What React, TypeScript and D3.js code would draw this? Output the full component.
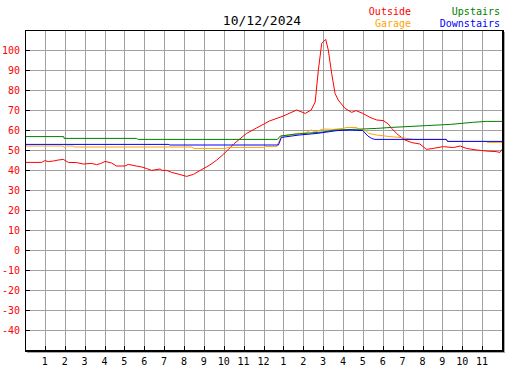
import * as d3 from "d3";

const W = 527;
const H = 370;
const LEFT = 25;
const RIGHT = 502;
const TOP = 30;
const BOTTOM = 350;

const TITLE = "10/12/2024";
const hourLabels = ["1", "2", "3", "4", "5", "6", "7", "8", "9", "10", "11", "12", "1", "2", "3", "4", "5", "6", "7", "8", "9", "10", "11"];
const tempTicks = [-40, -30, -20, -10, 0, 10, 20, 30, 40, 50, 60, 70, 80, 90, 100];

// [hour of day, temperature]
const outside: [number, number][] = [
  [0, 43.8], [0.84, 43.8], [1.0, 44.7], [1.17, 44.2], [1.43, 44.5], [1.68, 45], [1.93, 45.3],
  [2.18, 43.8], [2.6, 43.7], [2.93, 43], [3.35, 43.3], [3.6, 42.7], [3.8, 43.2], [4.03, 44.3],
  [4.36, 43.5], [4.6, 42], [5.03, 42], [5.2, 42.8], [5.6, 42], [5.87, 41.5], [6.1, 40.8],
  [6.37, 39.8], [6.8, 40.5], [6.9, 39.8], [7.13, 39.8], [7.38, 38.8], [7.7, 38], [8.13, 36.8],
  [8.47, 37.8], [8.8, 39.7], [9.3, 42.5], [9.65, 45], [10.0, 48], [10.5, 53], [11.15, 58.3],
  [11.65, 61], [12.3, 64.5], [13.0, 67], [13.67, 70], [14.1, 68.3], [14.4, 70], [14.6, 74],
  [14.76, 90], [14.93, 103.3], [15.13, 105.3], [15.26, 100], [15.43, 88.3], [15.6, 78.3],
  [15.76, 75], [16.1, 70.8], [16.44, 68.8], [16.65, 69.7], [17.0, 68.3], [17.36, 66.3],
  [17.7, 65], [18.03, 64.7], [18.28, 63], [18.45, 60.8], [18.78, 57.5], [19.12, 55],
  [19.46, 53.7], [19.87, 53], [20.2, 50.3], [20.54, 50.8], [21.05, 51.7], [21.55, 51.2],
  [21.9, 52], [22.2, 50.8], [22.73, 50], [23.2, 49.5], [23.7, 49.2], [23.9, 48.8], [24, 50.3],
];

const garage: [number, number][] = [
  [0, 52], [1.9, 52], [2.0, 51.3], [2.1, 52], [2.4, 52], [2.5, 51.5], [8.4, 51.5], [8.5, 50.8],
  [10.1, 50.8], [10.2, 51.3], [12.0, 51.3], [12.1, 51.7], [12.66, 51.7], [12.9, 57],
  [13.3, 57.5], [13.7, 58.3], [14.1, 58.5], [14.4, 60], [14.6, 59], [15.0, 60.5], [15.5, 60.3],
  [16.0, 60.8], [16.2, 61.3], [16.7, 61.2], [16.8, 60.3], [17.1, 60], [17.3, 58.3],
  [17.7, 57.5], [18.36, 56.7], [18.95, 56.2], [19.54, 55.3], [21.2, 55.3], [21.3, 54.3],
  [23.2, 54.3], [23.25, 53.8], [24, 53.8],
];

const upstairs: [number, number][] = [
  [0, 56.7], [1.95, 56.7], [1.97, 55.8], [5.6, 55.8], [5.7, 55.3], [12.7, 55.3], [12.85, 57],
  [13.5, 57.8], [14.3, 58.5], [15.0, 59], [15.6, 60], [16.5, 60.3], [17.7, 60.8],
  [18.45, 61.3], [20.2, 62.2], [21.4, 62.8], [22.5, 63.8], [23.2, 64.3], [24, 64.3],
];

const downstairs: [number, number][] = [
  [0, 52.8], [7.2, 52.8], [7.3, 52.5], [12.75, 52.5], [12.9, 56.3], [13.8, 57.5],
  [14.7, 58.3], [15.7, 59.7], [16.35, 60], [17.0, 59.7], [17.25, 57], [17.44, 55.8],
  [17.6, 55.3], [21.2, 55.3], [21.25, 54.3], [24, 54.3],
];

const series = [
  { name: "Outside", color: "#ff0000", data: outside },
  { name: "Garage", color: "#ffa500", data: garage },
  { name: "Upstairs", color: "#008000", data: upstairs },
  { name: "Downstairs", color: "#0000ff", data: downstairs },
];

const MONO = "'DejaVu Sans Mono', monospace";

export default function App() {
  const x = d3.scaleLinear().domain([0, 24]).range([LEFT, RIGHT]);
  const y = d3.scaleLinear().domain([-50, 110]).range([BOTTOM, TOP]);
  const line = d3
    .line<[number, number]>()
    .x((d) => x(d[0]))
    .y((d) => y(d[1]));

  const hours = d3.range(1, 24);

  return (
    <svg
      width={W}
      height={H}
      style={{ position: "absolute", left: 0, top: 0, background: "#fff" }}
    >
      <rect x={0} y={0} width={W} height={H} fill="#fff" />

      {/* shadow */}
      <rect x={LEFT + 2} y={TOP + 2} width={RIGHT - LEFT + 1} height={BOTTOM - TOP + 1} fill="#aaa" />
      <rect x={LEFT} y={TOP} width={RIGHT - LEFT} height={BOTTOM - TOP} fill="#fff" />

      {/* grid */}
      {hours.map((h) => (
        <line key={`gx${h}`} x1={Math.round(x(h)) + 0.5} x2={Math.round(x(h)) + 0.5} y1={TOP} y2={BOTTOM} stroke="#a0a0a0" />
      ))}
      {tempTicks.map((t) => (
        <line key={`gy${t}`} x1={LEFT} x2={RIGHT} y1={Math.round(y(t)) + 0.5} y2={Math.round(y(t)) + 0.5} stroke="#a0a0a0" />
      ))}

      {/* ticks */}
      {tempTicks.map((t) => (
        <line key={`ty${t}`} x1={LEFT} x2={LEFT + 5} y1={Math.round(y(t)) + 0.5} y2={Math.round(y(t)) + 0.5} stroke="#000" />
      ))}
      {hours.map((h) => (
        <line key={`tx${h}`} x1={Math.round(x(h)) + 0.5} x2={Math.round(x(h)) + 0.5} y1={BOTTOM - 4} y2={BOTTOM} stroke="#000" />
      ))}

      {/* series */}
      <g fill="none" strokeWidth={1}>
        {series.map((s) => (
          <path key={s.name} d={line(s.data) ?? ""} stroke={s.color} />
        ))}
      </g>

      {/* frame */}
      <rect x={LEFT + 0.5} y={TOP + 0.5} width={RIGHT - LEFT} height={BOTTOM - TOP} fill="none" stroke="#000" />
      <line x1={RIGHT + 1.5} x2={RIGHT + 1.5} y1={TOP} y2={BOTTOM + 2} stroke="#000" />
      <line x1={LEFT} x2={RIGHT + 2} y1={BOTTOM + 1.5} y2={BOTTOM + 1.5} stroke="#000" />

      {/* y labels */}
      {tempTicks.map((t) => (
        <text key={`ly${t}`} x={20} y={y(t) + 4} textAnchor="end" fontFamily={MONO} fontSize={10} fill="#ff0000">
          {t}
        </text>
      ))}

      {/* x labels */}
      {hours.map((h, i) => (
        <text key={`lx${h}`} x={x(h)} y={365} textAnchor="middle" fontFamily={MONO} fontSize={10} fill="#000">
          {hourLabels[i]}
        </text>
      ))}

      {/* title */}
      <text x={262} y={25} textAnchor="middle" fontFamily={MONO} fontSize={13} fill="#000">
        {TITLE}
      </text>

      {/* legend */}
      <text x={411} y={15} textAnchor="end" fontFamily={MONO} fontSize={10} fill="#ff0000">Outside</text>
      <text x={411} y={27} textAnchor="end" fontFamily={MONO} fontSize={10} fill="#ffa500">Garage</text>
      <text x={500} y={15} textAnchor="end" fontFamily={MONO} fontSize={10} fill="#008000">Upstairs</text>
      <text x={500} y={27} textAnchor="end" fontFamily={MONO} fontSize={10} fill="#0000ff">Downstairs</text>
    </svg>
  );
}
